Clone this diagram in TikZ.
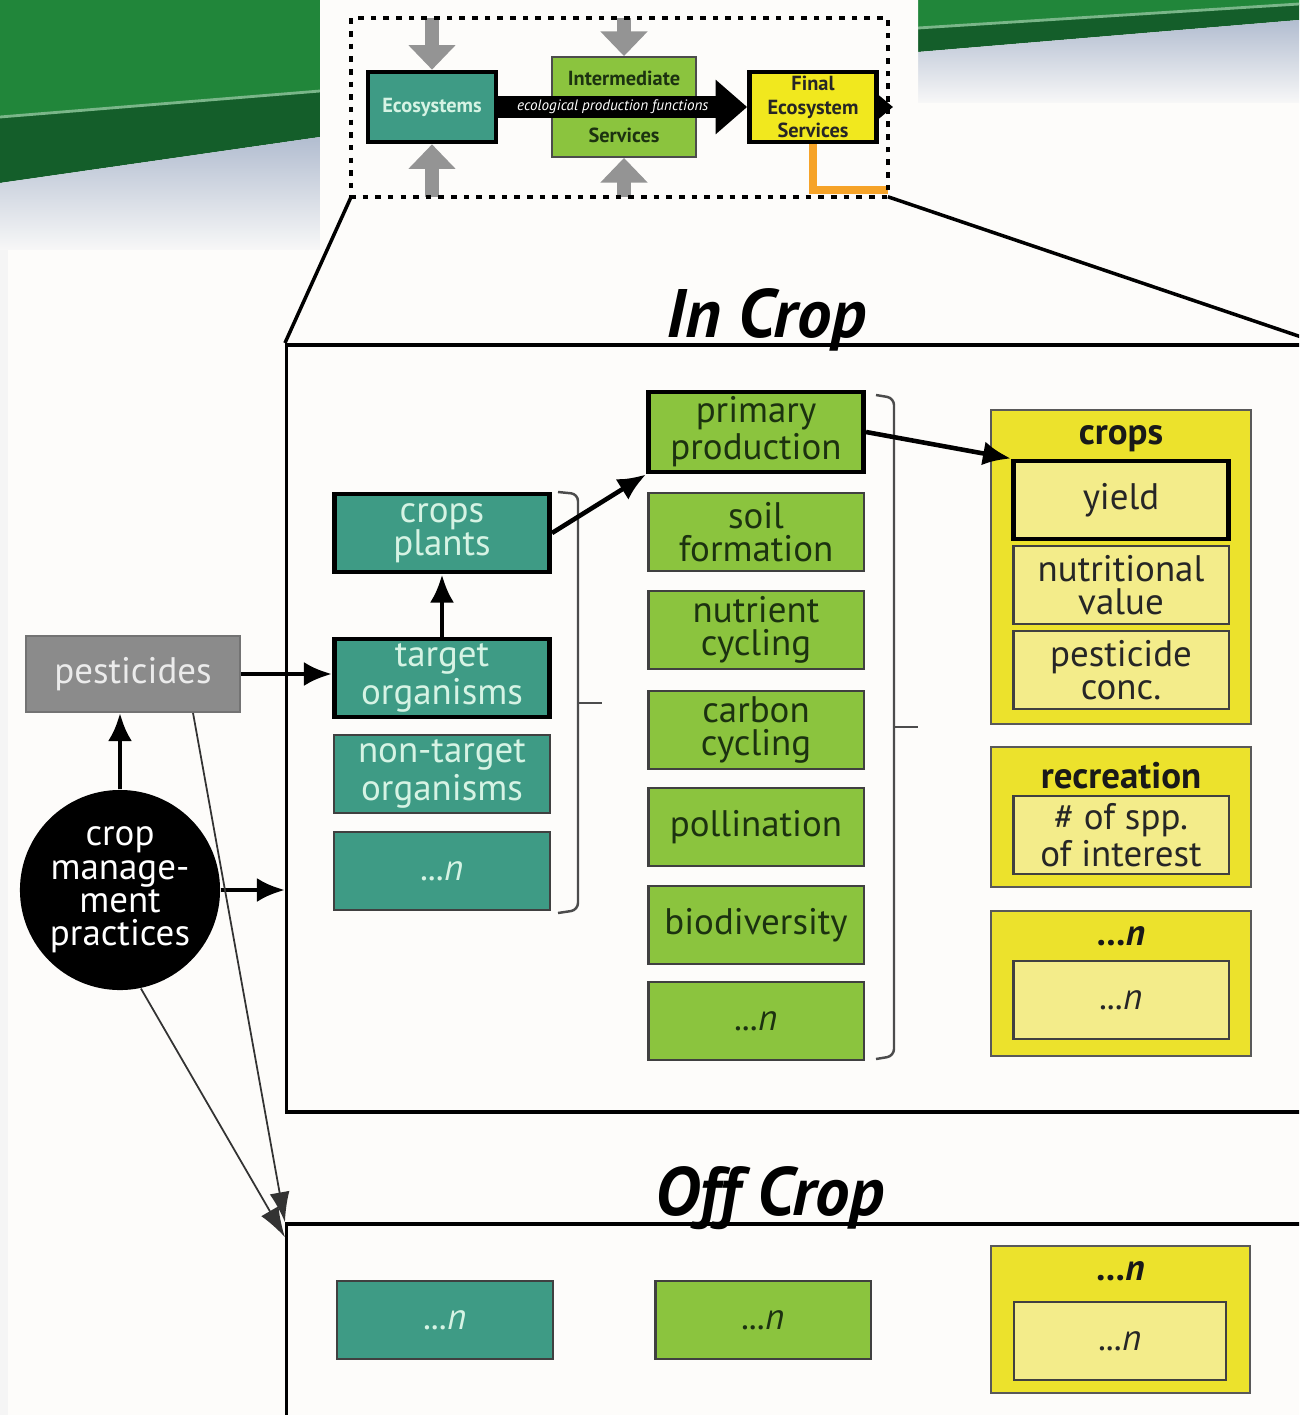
\documentclass[tikz,border=0pt]{standalone}
\usepackage{fontspec}
\setmainfont{PT Sans}
\usetikzlibrary{arrows,arrows.meta,positioning,shapes,calc}
\definecolor{ecoteal}{RGB}{62,155,133}
\definecolor{tealtext}{RGB}{214,243,228}
\definecolor{ecogreen}{RGB}{139,196,62}
\definecolor{greentext}{RGB}{28,50,16}
\definecolor{ecoyellow}{RGB}{236,226,44}
\definecolor{paleyellow}{RGB}{243,236,138}
\definecolor{fesyellow}{RGB}{241,232,30}
\definecolor{pestgray}{RGB}{139,139,139}
\definecolor{slidegreen}{RGB}{33,134,58}
\definecolor{darkslide}{RGB}{20,94,42}
\definecolor{slidefade}{RGB}{178,189,208}
\definecolor{paper}{RGB}{253,252,250}
\definecolor{fesorange}{RGB}{246,163,40}
\newcommand{\ellipn}{\textit{...n}}

\begin{document}
\begin{tikzpicture}[x=0.01cm, y=-0.01cm,
    cellbox/.style={draw=black!75, line width=0.6pt, minimum width=2.15cm, minimum height=0.78cm,
      align=center, inner sep=1pt, font=\fontsize{10.5}{9.5}\selectfont},
    tealbox/.style={cellbox, fill=ecoteal, text=tealtext},
    greenbox/.style={cellbox, fill=ecogreen, text=greentext},
    itembox/.style={cellbox, fill=paleyellow, text=black!85},
    groupbox/.style={draw=black!65, line width=0.6pt, fill=ecoyellow, minimum width=2.6cm},
    grouptitle/.style={anchor=north, inner sep=4.5pt, text=black!90, font=\bfseries\fontsize{10.5}{11}\selectfont},
    keybox/.style={draw=black, line width=1.4pt},
    flow/.style={draw, line width=1.3pt, -{Latex[length=2.8mm,width=2.4mm]}},
    thinflow/.style={draw=black!80, line width=0.5pt, -{Latex[length=3mm,width=2mm]}},
    feed/.style={draw=black!42, line width=4.2pt, -{Triangle[length=7pt,width=13pt]}},
    minibox/.style={align=center, inner sep=0pt, font=\bfseries\fontsize{5.8}{6.6}\selectfont},
    croptitle/.style={anchor=base, inner sep=0pt, font=\bfseries\itshape\fontsize{19.5}{21}\selectfont}]
\useasboundingbox (0,0) rectangle (1299,1415);
\clip (0,0) rectangle (1299,1415);

%slide behind the figure
\fill[black!4] (0,0) rectangle (1299,1415);
\fill[slidegreen] (0,0) -- (1299,0) -- (1299,4) -- (918,28) -- (320,91) -- (0,117) -- cycle;
\fill[darkslide] (0,117) -- (320,91) -- (918,28) -- (1299,4) -- (1299,20) -- (918,52) -- (320,137) -- (0,183) -- cycle;
\draw[slidegreen!60!white, line width=0.8pt] (0,117) -- (320,91) -- (918,28) -- (1299,4);
\shade[top color=slidefade, bottom color=black!3] (0,183) -- (320,137) -- (320,250) -- (0,250) -- cycle;
\shade[top color=slidefade, bottom color=black!3] (918,52) -- (1299,20) -- (1299,103) -- (918,103) -- cycle;
\fill[paper] (320,0) -- (918,0) -- (918,103) -- (1299,103) -- (1299,1415) -- (8,1415) -- (8,250) -- (320,250) -- cycle;

%overview
\node[minibox, fill=ecoteal, text=tealtext, draw=black, line width=1.3pt, minimum width=1.28cm, minimum height=0.70cm] (eco) at (432,107) {Ecosystems};
\node[minibox, fill=ecogreen, text=greentext, draw=black!70, line width=0.5pt, minimum width=1.44cm, minimum height=1.0cm] (inter) at (624,107) {Intermediate\\[9.5pt]Services};
\node[minibox, fill=fesyellow, text=black!85, draw=black, line width=1.3pt, minimum width=1.27cm, minimum height=0.70cm] (fes) at (813,107) {Final\\Ecosystem\\Services};
\node[minimum width=5.35cm, minimum height=1.77cm] (frame) at (619.5,107.5) {};
\coordinate (fesout) at (893,107);
\path[feed] (eco.north |- frame.north) -- (eco.north);
\path[feed] (eco.south |- frame.south) -- (eco.south);
\path[feed] (inter.north |- frame.north) -- (inter.north);
\path[feed] (inter.south |- frame.south) -- (inter.south);
\path[draw, line width=6pt, -{Triangle[length=9pt,width=15pt]}] (eco.east) -- node[pos=0.46, text=white, inner sep=0pt, font=\itshape\fontsize{4.3}{5}\selectfont] {ecological production functions} (fes.west);
\path[draw, line width=2.5pt, -{Triangle[length=5pt,width=8pt]}] (fes.east) -- (fesout);
\draw[fesorange, line width=2.4pt] (fes.south) |- ([yshift=0.07cm]frame.south east);
\draw[line width=1.2pt, dash pattern=on 1.6pt off 2pt] (frame.north west) rectangle (frame.south east);

%frames
\node[draw, line width=1pt, minimum width=10.3cm, minimum height=7.67cm] (incrop) at (802,728.5) {};
\node[draw, line width=1pt, minimum width=10.3cm, minimum height=2.06cm] (offcrop) at (802,1327) {};
\node[croptitle] (intitle) at (766,337) {In Crop};
\node[croptitle] (offtitle) at (770,1215) {Off Crop};
\draw[line width=1pt] (frame.south west) -- (incrop.north west);
\draw[line width=1pt] (frame.south east) -- (incrop.north east);

%ecosystems
\node[tealbox, keybox] (cplants) at (442,533) {crops\\plants};
\node[tealbox, keybox] (target) at (442,678) {target\\organisms};
\node[tealbox] (nontarget) at (442,774) {non-target\\organisms};
\node[tealbox] (tealmore) at (442,871) {\ellipn};

%intermediate services
\node[greenbox, keybox, minimum height=0.80cm] (primprod) at (756,432) {primary\\production};
\node[greenbox] (soil) at (756,532) {soil\\formation};
\node[greenbox] (nutrient) at (756,630) {nutrient\\cycling};
\node[greenbox] (carbon) at (756,730) {carbon\\cycling};
\node[greenbox] (pollination) at (756,827) {pollination};
\node[greenbox] (biodiv) at (756,925) {biodiversity};
\node[greenbox] (greenmore) at (756,1021) {\ellipn};

%final services
\node[groupbox, minimum height=3.14cm] (cropgrp) at (1121,567) {};
\node[grouptitle] (cropname) at (cropgrp.north) {crops};
\node[itembox, keybox] (yield) at (1121,500) {yield};
\node[itembox] (nutrition) at (1121,585) {nutritional\\value};
\node[itembox] (pestconc) at (1121,670) {pesticide\\conc.};
\node[groupbox, minimum height=1.40cm] (recgrp) at (1121,817) {};
\node[grouptitle] (recname) at (recgrp.north) {recreation};
\node[itembox] (spp) at (1121,835) {\# of spp.\\of interest};
\node[groupbox, minimum height=1.45cm] (moregrp) at (1121,983.5) {};
\node[grouptitle] (morename) at (moregrp.north) {\ellipn};
\node[itembox] (itemmore) at (1121,1000) {\ellipn};

%off crop
\node[tealbox] (offteal) at (445,1320) {\ellipn};
\node[greenbox] (offgreen) at (763,1320) {\ellipn};
\node[groupbox, minimum height=1.47cm, minimum width=2.59cm] (offgrp) at (1120.5,1319.5) {};
\node[grouptitle] (offname) at (offgrp.north) {\ellipn};
\node[itembox, minimum width=2.12cm] (offitem) at (1120,1341) {\ellipn};

%drivers
\node[cellbox, fill=pestgray, draw=black!55, text=black!8, minimum width=2.14cm, minimum height=0.76cm] (pest) at (133,674) {pesticides};
\node[circle, fill=black, text=white, minimum size=2cm, inner sep=0pt, align=center, font=\fontsize{10.5}{9.5}\selectfont] (cmp) at (120,890) {crop\\manage-\\ment\\practices};

%brackets
\draw[black!70, line width=0.7pt, rounded corners=2pt] (558,492) -- (578,494) -- (578,910) -- (558,913);
\draw[black!70, line width=0.7pt] (578,703) -- (602,703);
\draw[black!70, line width=0.7pt, rounded corners=2pt] (876,395) -- (894,398) -- (894,1056) -- (876,1059);
\draw[black!70, line width=0.7pt] (894,727) -- (918,727);

%edges
\path[flow] (pest.east) -- (pest.east -| target.west);
\path[flow] (cmp.north) -- (cmp.north |- pest.south);
\path[flow] (cmp.east) -- (cmp.east -| incrop.west);
\path[flow] (target.north) -- (cplants.south);
\path[flow] (cplants.east) -- (primprod.south west);
\path[flow] (primprod.east) -- (yield.north west);
\path[thinflow] ([xshift=0.6cm]pest.south) -- (offcrop.north west);
\path[thinflow] (cmp.-78) -- ([yshift=-0.15cm]offcrop.north west);
\end{tikzpicture}
\end{document}
